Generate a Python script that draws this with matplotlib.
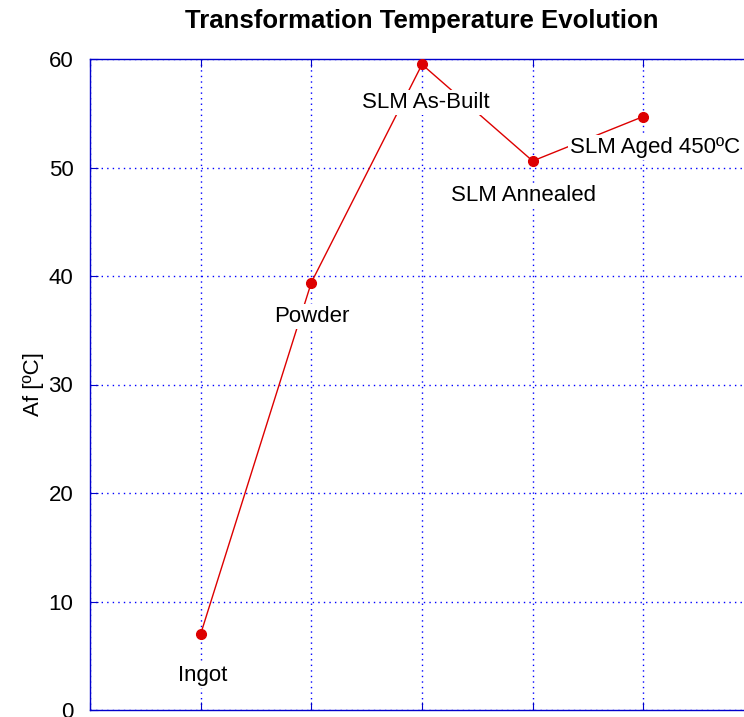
"""
Af transformation temperature across processing stages
"""
import matplotlib
matplotlib.use("Agg")
import matplotlib.pyplot as plt

# data
stages = ["Ingot", "Powder", "SLM As-Built", "SLM Annealed", "SLM Aged 450ºC"]
stage_x = [1, 2, 3, 4, 5]
af_temp = [7.0, 39.4, 59.5, 50.6, 54.7]

# where each label sits (data coords)
label_x = [1.02, 2.0, 3.03, 3.92, 5.11]
label_y = [3.2, 36.3, 56.0, 47.4, 51.8]

y_ticks = [0, 10, 20, 30, 40, 50, 60]


def plot_af_evolution(output_path="out.png"):
    plt.rcParams["font.family"] = ["Liberation Sans", "DejaVu Sans"]
    fig = plt.figure(figsize=(7.44, 7.17), dpi=100)
    # axes runs past the right/bottom edge like the cropped original
    ax = fig.add_axes([90 / 744, 7 / 717, 664 / 744, 651 / 717])

    ax.plot(stage_x, af_temp, "-", color="#dd0000", linewidth=1.0,
            marker="o", markersize=7, zorder=3)

    for name, lx, ly in zip(stages, label_x, label_y):
        ax.text(lx, ly, name, ha="center", va="center", fontsize=16,
                zorder=4,
                bbox=dict(facecolor="white", edgecolor="none", pad=1.5))

    ax.set_xlim(0, 6)
    ax.set_ylim(0, 60)
    ax.set_yticks(y_ticks)
    ax.set_xticks(range(0, 7))
    ax.set_xticklabels([])
    ax.grid(True, color="blue", linestyle=(0, (1, 3)), linewidth=1.0)
    ax.set_axisbelow(True)
    for sp in ax.spines.values():
        sp.set_color("#0000cc")
        sp.set_linewidth(1.0)
    ax.tick_params(axis="both", direction="in", color="#0000cc", length=6,
                   pad=12, labelsize=16, labelcolor="black", top=True, right=True)
    ax.set_ylabel("Af [ºC]", fontsize=16, labelpad=3)
    ax.set_title("Transformation Temperature Evolution", fontsize=18.5,
                 fontweight="bold", pad=22)

    fig.savefig(output_path, dpi=100)
    plt.close(fig)


def main():
    plot_af_evolution()


if __name__ == "__main__":
    main()
